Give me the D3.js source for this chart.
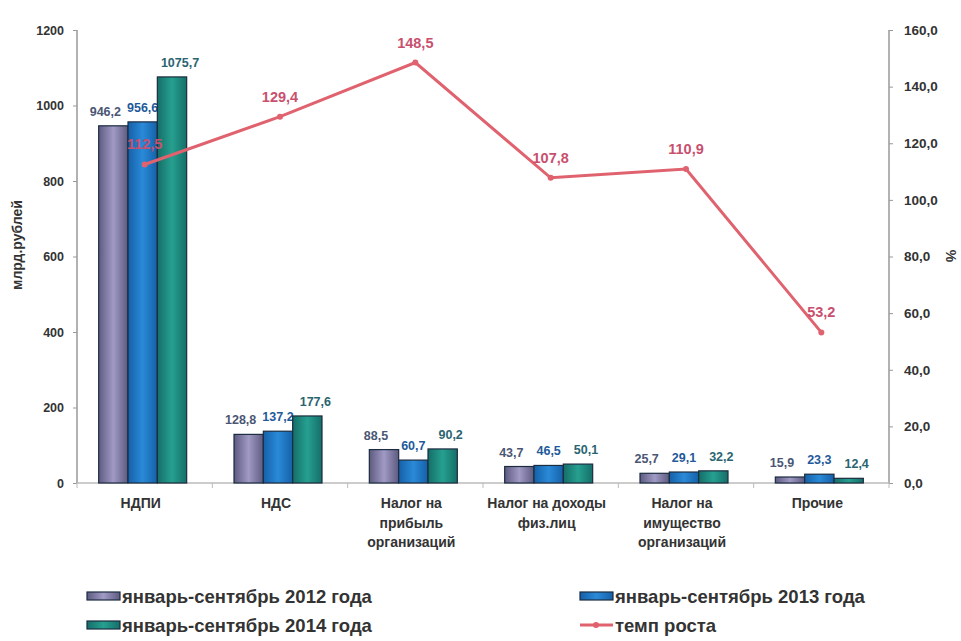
<!DOCTYPE html>
<html><head><meta charset="utf-8">
<script src="https://cdn.jsdelivr.net/npm/d3@7"></script>
<style>body{margin:0;background:#fff;} text{font-family:"Liberation Sans",Arial,sans-serif;font-weight:bold;}</style>
</head><body>
<svg id="c" width="961" height="641"></svg>
<script>
const categories = ["НДПИ","НДС","Налог на|прибыль|организаций","Налог на доходы|физ.лиц","Налог на|имущество|организаций","Прочие"];
const series2012 = [946.2,128.8,88.5,43.7,25.7,15.9];
const series2013 = [956.6,137.2,60.7,46.5,29.1,23.3];
const series2014 = [1075.7,177.6,90.2,50.1,32.2,12.4];
const growth = [112.5,129.4,148.5,107.8,110.9,53.2];
const leftTicks = [0,200,400,600,800,1000,1200];
const rightTicks = [0,20,40,60,80,100,120,140,160];
const seriesNames = ["январь-сентябрь 2012 года","январь-сентябрь 2013 года","январь-сентябрь 2014 года","темп роста"];

const svg = d3.select("#c");
const L = 77, R = 889, T = 30, B = 483;
const x = d3.scaleBand().domain(d3.range(categories.length)).range([L,R]);
const yL = d3.scaleLinear().domain([0,1200]).range([B,T]);
const yR = d3.scaleLinear().domain([0,160]).range([B,T]);
const fmt = v => d3.format(".1f")(v).replace(".",",");

const defs = svg.append("defs");
const grads = [["g0","#5d5a80","#a09ac4"],["g1","#1560a8","#2a8ad8"],["g2","#156e68","#26a090"]];
grads.forEach(([id,a,b])=>{
  const g = defs.append("linearGradient").attr("id",id).attr("x1","0").attr("x2","1").attr("y1","0").attr("y2","0");
  g.append("stop").attr("offset","0%").attr("stop-color",a);
  g.append("stop").attr("offset","50%").attr("stop-color",b);
  g.append("stop").attr("offset","100%").attr("stop-color",a);
});
const barFill = ["url(#g0)","url(#g1)","url(#g2)"];
const labelColor = ["#4a5674","#1f5a9a","#2a6470"];
const allSeries = [series2012,series2013,series2014];

const sub = d3.scaleBand().domain([0,1,2]).range([0,88]);
const offset = (x.bandwidth()-88)/2 - 2;

// axes
svg.append("line").attr("x1",L).attr("x2",L).attr("y1",T).attr("y2",B).attr("stroke","#999").attr("stroke-width",1.5);
svg.append("line").attr("x1",R).attr("x2",R).attr("y1",T).attr("y2",B).attr("stroke","#999").attr("stroke-width",1.5);
svg.append("line").attr("x1",L).attr("x2",R).attr("y1",B).attr("y2",B).attr("stroke","#bbb").attr("stroke-width",1.5);

const axL = d3.axisLeft(yL).tickValues(leftTicks).tickSize(4).tickFormat(d=>d);
const gL = svg.append("g").attr("transform",`translate(${L},0)`).call(axL);
gL.select(".domain").remove();
gL.selectAll("line").attr("stroke","#999");
gL.selectAll("text").attr("font-size",12.5).attr("fill","#333").attr("x",-13);

const axR = d3.axisRight(yR).tickValues(rightTicks).tickSize(4).tickFormat(fmt);
const gR = svg.append("g").attr("transform",`translate(${R},0)`).call(axR);
gR.select(".domain").remove();
gR.selectAll("line").attr("stroke","#999");
gR.selectAll("text").attr("font-size",13.5).attr("fill","#333").attr("x",15);

// x ticks at band boundaries
d3.range(categories.length+1).forEach(i=>{
  const xx = L + i*x.step();
  svg.append("line").attr("x1",xx).attr("x2",xx).attr("y1",B).attr("y2",B+5).attr("stroke","#bbb");
});

// bars
allSeries.forEach((s,si)=>{
  svg.append("g").selectAll("rect").data(s).join("rect")
    .attr("x",(d,i)=>x(i)+offset+sub(si))
    .attr("width",sub.bandwidth())
    .attr("y",d=>yL(d))
    .attr("height",d=>B-yL(d))
    .attr("fill",barFill[si])
    .attr("stroke","#1c2c40").attr("stroke-width",1.2);
  svg.append("g").selectAll("text").data(s).join("text")
    .attr("x",(d,i)=>x(i)+offset+sub(si)+sub.bandwidth()/2 + (si===0?-8:si===2?8:0))
    .attr("y",d=>yL(d)-10)
    .attr("text-anchor","middle").attr("font-size",12.5)
    .attr("fill",labelColor[si])
    .text(d=>fmt(d));
});

// line
const cx = i => x(i)+x.bandwidth()/2;
svg.append("path").datum(growth)
  .attr("d",d3.line().x((d,i)=>cx(i)).y(d=>yR(d)))
  .attr("fill","none").attr("stroke","#e0626e").attr("stroke-width",3);
svg.append("g").selectAll("circle").data(growth).join("circle")
  .attr("cx",(d,i)=>cx(i)).attr("cy",d=>yR(d)).attr("r",3)
  .attr("fill","#e0626e");
svg.append("g").selectAll("text").data(growth).join("text")
  .attr("x",(d,i)=>cx(i)).attr("y",d=>yR(d)-15)
  .attr("text-anchor","middle").attr("font-size",14.5)
  .attr("fill","#c8506e")
  .text(d=>fmt(d));

// category labels
categories.forEach((c,i)=>{
  const t = svg.append("text").attr("x",cx(i)-4).attr("y",B+25).attr("text-anchor","middle")
    .attr("font-size",14).attr("fill","#333");
  c.split("|").forEach((ln,j)=>t.append("tspan").attr("x",cx(i)-4).attr("dy",j?19.5:0).text(ln));
});

// axis titles
svg.append("text").attr("transform","translate(22,245) rotate(-90)").attr("text-anchor","middle")
  .attr("font-size",14).attr("fill","#333").text("млрд.рублей");
svg.append("text").attr("transform","translate(946,256) rotate(90)").attr("text-anchor","middle")
  .attr("font-size",14).attr("fill","#333").text("%");

// legend
const leg = [[87,603,0],[580,603,1],[87,632,2],[580,632,3]];
leg.forEach(([lx,ly,k])=>{
  if(k<3){
    svg.append("rect").attr("x",lx).attr("y",ly-11).attr("width",33).attr("height",8)
      .attr("fill",barFill[k]).attr("stroke","#1c2c40").attr("stroke-width",1.2);
  } else {
    svg.append("line").attr("x1",lx).attr("x2",lx+33).attr("y1",ly-7).attr("y2",ly-7).attr("stroke","#e0626e").attr("stroke-width",3);
    svg.append("circle").attr("cx",lx+16).attr("cy",ly-7).attr("r",3).attr("fill","#e0626e");
  }
  svg.append("text").attr("x",lx+35).attr("y",ly).attr("font-size",18.5).attr("fill","#333").text(seriesNames[k]);
});
</script>
</body></html>
